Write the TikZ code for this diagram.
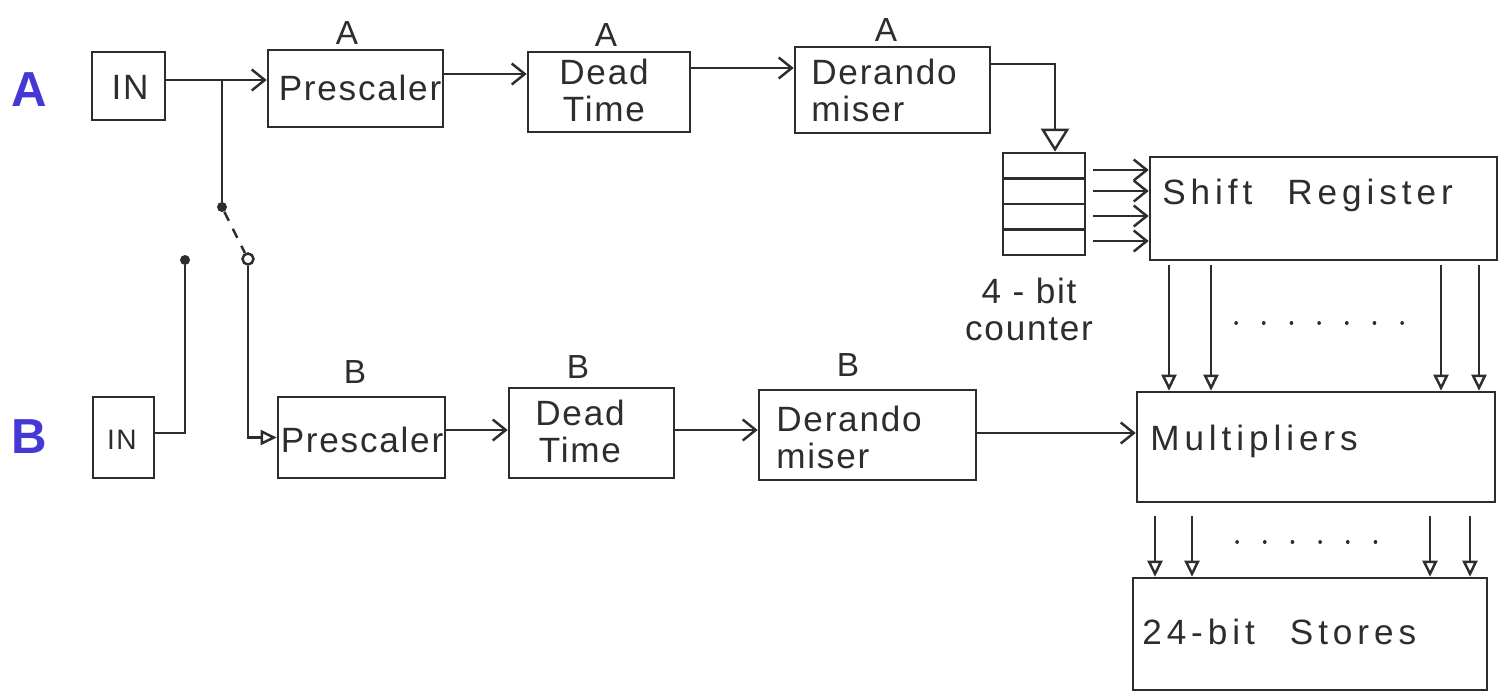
\documentclass[tikz,border=0pt]{standalone}
\usepackage{fontspec}
\setmainfont{Liberation Sans}[LetterSpace=5]
\usetikzlibrary{arrows.meta,fit}
\definecolor{ink}{RGB}{45,45,45}
\definecolor{bluemark}{RGB}{70,55,215}
\begin{document}
\begin{tikzpicture}[x=0.02cm,y=-0.02cm,
  box/.style={draw=ink,line width=1.5pt,inner sep=0pt},
  wire/.style={draw=ink,line width=1.4pt},
  barb/.style={wire,-{Straight Barb[length=0.26cm,width=0.42cm,line width=1.4pt]}},
  tri/.style={wire,-{Triangle[open,length=0.32cm,width=0.3cm,line width=1.4pt]}},
  bigtri/.style={wire,-{Triangle[open,length=0.46cm,width=0.56cm,line width=1.4pt]}},
  txt/.style={text=ink,font=\fontsize{20}{21}\selectfont,inner sep=0pt},
  widetxt/.style={text=ink,font=\fontsize{20}{21}\selectfont\addfontfeatures{LetterSpace=14},inner sep=0pt},
  lbl/.style={text=ink,font=\fontsize{19}{20}\selectfont,inner sep=0pt},
  rowmark/.style={text=bluemark,font=\fontsize{28}{30}\selectfont\bfseries,inner sep=0pt},
  dotrow/.style={draw=ink,line width=2pt,line cap=round,dash pattern=on 0.1pt off 0.55cm}
]
\useasboundingbox (0,0) rectangle (1512,697);

% blue row marks
\node[rowmark] (markA) at (29,90) {A};
\node[rowmark] (markB) at (29,437) {B};

% boxes
\node[box,fit={(92,52) (165,120)}] (inA) {};
\node[box,fit={(268,50) (443,127)}] (prescA) {};
\node[box,fit={(528,52) (690,132)}] (deadA) {};
\node[box,fit={(795,47) (990,133)}] (derA) {};
\node[box,fit={(1003,153) (1085,255)}] (ctr) {};
\node[box,fit={(1150,157) (1497,260)}] (shift) {};
\node[box,fit={(93,397) (154,478)}] (inB) {};
\node[box,fit={(278,397) (445,478)}] (prescB) {};
\node[box,fit={(509,388) (674,478)}] (deadB) {};
\node[box,fit={(759,390) (976,480)}] (derB) {};
\node[box,fit={(1137,392) (1495,502)}] (mult) {};
\node[box,fit={(1133,578) (1487,690)}] (stores) {};

% counter rows
\draw[wire] (ctr.west |- 0,178.5) -- (ctr.east |- 0,178.5);
\draw[wire] (ctr.west |- 0,204) -- (ctr.east |- 0,204);
\draw[wire] (ctr.west |- 0,229.5) -- (ctr.east |- 0,229.5);

% texts in boxes
\node[txt] (tinA) at (130,87) {IN};
\node[txt] (tprescA) at (360,88) {Prescaler};
\node[txt,align=center] (tdeadA) at (604,90) {Dead\\Time};
\node[txt,align=left,anchor=west] (tderA) at (811,90) {Derando\\miser};
\node[widetxt,anchor=west] (tshift) at (1162,195) {Shift\hspace{1em}Register};
\node[lbl,font=\fontsize{16}{18}\selectfont] (tinB) at (122,440) {IN};
\node[txt] (tprescB) at (362,440) {Prescaler};
\node[txt,align=center] (tdeadB) at (580,431) {Dead\\Time};
\node[txt,align=left,anchor=west] (tderB) at (776,437) {Derando\\miser};
\node[widetxt,anchor=west] (tmult) at (1150,441) {Multipliers};
\node[widetxt,anchor=west] (tstores) at (1142,632) {24-bit\hspace{1em}Stores};
\node[txt,align=center] (tctr) at (1029,309) {4 - bit\\counter};

% labels above boxes
\node[lbl] (lA1) at (347,33) {A};
\node[lbl] (lA2) at (606,35) {A};
\node[lbl] (lA3) at (886,30) {A};
\node[lbl] (lB1) at (355,372) {B};
\node[lbl] (lB2) at (578,367) {B};
\node[lbl] (lB3) at (848,365) {B};

% switch
\coordinate (j1) at (222,80);
\node[circle,fill=ink,inner sep=0pt,minimum size=0.2cm] (swA) at (222,207) {};
\node[circle,draw=ink,line width=1.4pt,fill=white,inner sep=0pt,minimum size=0.22cm] (swO) at (248,259) {};
\node[circle,fill=ink,inner sep=0pt,minimum size=0.2cm] (swB) at (185,260) {};
\draw[wire,dash pattern=on 0.2cm off 0.18cm] (swA) -- (swO);

% row A
\draw[barb] (inA.east |- 0,80) -- (prescA.west |- 0,80);
\draw[wire] (j1) -- (swA);
\draw[barb] (prescA.east |- 0,74) -- (deadA.west |- 0,74);
\draw[barb] (deadA.east |- 0,68) -- (derA.west |- 0,68);
\draw[bigtri] (derA.east |- 0,64) -| (1055,0 |- ctr.north);

% counter to shift register
\foreach \yy in {170,191,216,241}
  \draw[barb,shorten <=4pt] (ctr.east |- 0,\yy) -- (shift.west |- 0,\yy);

% shift register to multipliers
\foreach \xx in {1169,1211,1441,1479}
  \draw[tri,shorten <=2pt] (\xx,0 |- shift.south) -- (\xx,0 |- mult.north);
\draw[dotrow] (1236,323) -- (1425,323);

% multipliers to stores
\foreach \xx in {1155,1192,1430,1470}
  \draw[tri,shorten <=7pt] (\xx,0 |- mult.south) -- (\xx,0 |- stores.north);
\draw[dotrow] (1237,542) -- (1385,542);

% row B
\draw[wire] (inB.east |- 0,433) -| (swB);
\draw[tri] (swO.south) |- (prescB.west);
\draw[barb] (prescB.east |- 0,430) -- (deadB.west |- 0,430);
\draw[barb] (deadB.east |- 0,430) -- (derB.west |- 0,430);
\draw[barb] (derB.east |- 0,433) -- (mult.west |- 0,433);
\end{tikzpicture}
\end{document}
